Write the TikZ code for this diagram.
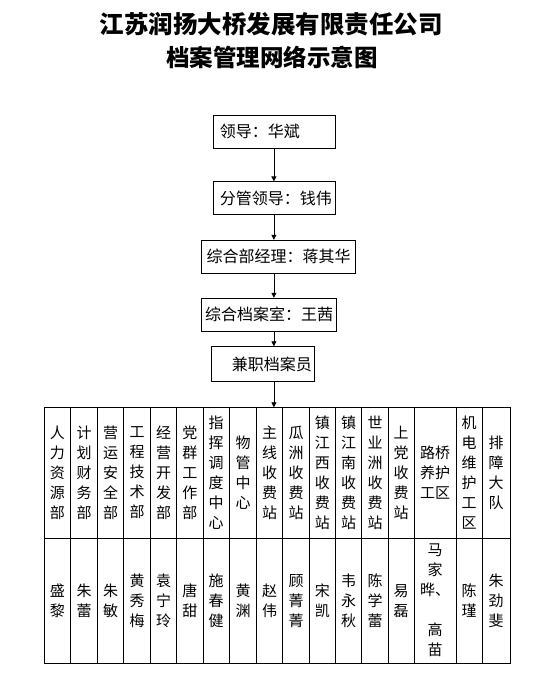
\documentclass[tikz,border=0pt]{standalone}
\usepackage{fontspec}
\setmainfont{Noto Sans CJK SC}
\usetikzlibrary{arrows.meta}

\begin{document}
\begin{tikzpicture}[
 x=1pt,y=-1pt,
 box/.style={draw,line width=0.8pt,inner xsep=7pt,inner ysep=0pt,align=left,minimum height=33pt,font=\fontsize{16}{18}\selectfont},
 cell/.style={draw,line width=0.8pt,inner sep=0pt,outer sep=0pt,anchor=north west,align=center,font=\fontsize{15}{20}\selectfont},
 arrow/.style={-{Triangle[length=5pt,width=5pt]},line width=0.8pt}
]
\useasboundingbox (0,0) rectangle (547,675);
\node[font=\fontsize{24.5}{26}\selectfont\bfseries] (title) at (271,24) {江苏润扬大桥发展有限责任公司};
\node[font=\fontsize{23.5}{26}\selectfont\bfseries] (subtitle) at (272,57) {档案管理网络示意图};
\node[box,text width=108pt] (lead) at (273.9,131.7) {领导：华斌};
\node[box,text width=108pt] (vice) at (273.9,198.3) {分管领导：钱伟};
\node[box,inner xsep=5pt,text width=144pt] (mgr) at (278.7,256.7) {综合部经理：蒋其华};
\node[box,inner xsep=3.5pt,text width=128pt] (arch) at (269.2,314.7) {综合档案室：王茜};
\node[box,inner xsep=3pt,align=right,text width=97pt,minimum height=35pt] (staff) at (263.3,364.2) {兼职档案员};
\foreach \i/\xa/\xb/\hd/\nm in {
 1/44/70.7/{人\\力\\资\\源\\部}/{盛\\黎},
 2/70.7/97.3/{计\\划\\财\\务\\部}/{朱\\蕾},
 3/97.3/123.7/{营\\运\\安\\全\\部}/{朱\\敏},
 4/123.7/150.7/{工\\程\\技\\术\\部}/{黄\\秀\\梅},
 5/150.7/176.7/{经\\营\\开\\发\\部}/{袁\\宁\\玲},
 6/176.7/203/{党\\群\\工\\作\\部}/{唐\\甜},
 7/203/229.3/{指\\挥\\调\\度\\中\\心}/{施\\春\\健},
 8/229.3/256.7/{物\\管\\中\\心}/{黄\\渊},
 9/256.7/282.7/{主\\线\\收\\费\\站}/{赵\\伟},
 10/282.7/309.3/{瓜\\洲\\收\\费\\站}/{顾\\菁\\菁},
 11/309.3/335.3/{镇\\江\\西\\收\\费\\站}/{宋\\凯},
 12/335.3/361.7/{镇\\江\\南\\收\\费\\站}/{韦\\永\\秋},
 13/361.7/388.3/{世\\业\\洲\\收\\费\\站}/{陈\\学\\蕾},
 14/388.3/414/{上\\党\\收\\费\\站}/{易\\磊},
 15/414/456/{路桥\\养护\\工区}/{马\\家\\晔、\\\mbox{}\\高\\苗},
 16/456/482.3/{机\\电\\维\\护\\工\\区}/{陈\\瑾},
 17/482.3/510/{排\\障\\大\\队}/{朱\\劲\\斐}}
{
 \node[cell,minimum width=\xb-\xa,minimum height=131] (h\i) at (\xa,407.3) {\hd};
 \node[cell,minimum width=\xb-\xa,minimum height=124.7] (n\i) at (\xa,538.3) {\nm};
}
\draw[arrow] (lead.south) -- (lead.south |- vice.north);
\draw[arrow] (vice.south) -- (lead.south |- mgr.north);
\draw[arrow] (lead.south |- mgr.south) -- (lead.south |- arch.north);
\draw[arrow] (lead.south |- arch.south) -- (lead.south |- staff.north);
\draw[arrow] (lead.south |- staff.south) -- (lead.south |- h9.north);
\end{tikzpicture}
\end{document}
